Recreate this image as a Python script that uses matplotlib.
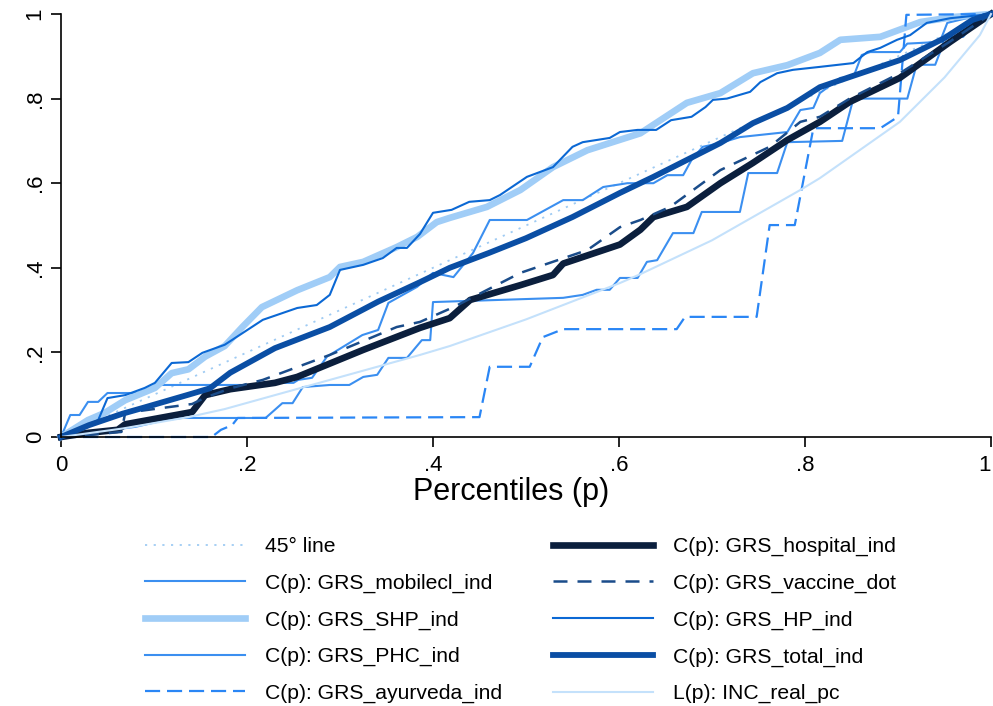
import matplotlib
matplotlib.use('Agg')
import matplotlib.pyplot as plt

plt.rcParams['font.family'] = ['Liberation Sans', 'DejaVu Sans']

# ==========================================
# 1. Curves: (p, value)
# ==========================================
line45 = [(0, 0), (1, 1)]

mobilecl = [(0, 0), (0.01, 0.052), (0.02, 0.052), (0.029, 0.083), (0.04, 0.083), (0.05, 0.104),
            (0.093, 0.104), (0.101, 0.123), (0.215, 0.123), (0.22, 0.128), (0.25, 0.128),
            (0.255, 0.135), (0.27, 0.14), (0.286, 0.19), (0.324, 0.241), (0.341, 0.253),
            (0.352, 0.317), (0.383, 0.355), (0.40, 0.388), (0.422, 0.378), (0.443, 0.435),
            (0.461, 0.513), (0.501, 0.513), (0.54, 0.56), (0.561, 0.56), (0.583, 0.591),
            (0.609, 0.60), (0.637, 0.60), (0.652, 0.619), (0.669, 0.619), (0.678, 0.655),
            (0.69, 0.686), (0.709, 0.695), (0.73, 0.709), (0.781, 0.721), (0.795, 0.773),
            (0.809, 0.778), (0.816, 0.813), (0.838, 0.849), (0.852, 0.851), (0.861, 0.903),
            (0.87, 0.91), (0.902, 0.91), (0.91, 0.93), (0.945, 0.934), (0.953, 0.979),
            (0.974, 0.99), (1, 1)]

shp = [(0, 0), (0.029, 0.04), (0.047, 0.057), (0.069, 0.087), (0.101, 0.116), (0.119, 0.151),
       (0.137, 0.16), (0.155, 0.19), (0.176, 0.215), (0.195, 0.26), (0.216, 0.307),
       (0.254, 0.347), (0.289, 0.378), (0.30, 0.402), (0.325, 0.414), (0.361, 0.449),
       (0.383, 0.473), (0.404, 0.508), (0.418, 0.518), (0.458, 0.544), (0.494, 0.584),
       (0.529, 0.638), (0.566, 0.678), (0.623, 0.718), (0.673, 0.79), (0.709, 0.813),
       (0.744, 0.86), (0.781, 0.879), (0.816, 0.908), (0.838, 0.939), (0.881, 0.946),
       (0.924, 0.981), (0.96, 0.993), (1, 1)]

phc = [(0, 0), (0.055, 0.017), (0.08, 0.024), (0.112, 0.04), (0.13, 0.045), (0.22, 0.045),
       (0.238, 0.08), (0.249, 0.08), (0.26, 0.118), (0.289, 0.123), (0.31, 0.123),
       (0.325, 0.142), (0.34, 0.147), (0.352, 0.187), (0.372, 0.187), (0.388, 0.229),
       (0.397, 0.229), (0.40, 0.319), (0.54, 0.329), (0.561, 0.336), (0.576, 0.348),
       (0.59, 0.348), (0.601, 0.376), (0.62, 0.376), (0.63, 0.414), (0.641, 0.418),
       (0.658, 0.482), (0.68, 0.482), (0.689, 0.532), (0.73, 0.532), (0.739, 0.624),
       (0.77, 0.624), (0.781, 0.697), (0.84, 0.70), (0.852, 0.80), (0.91, 0.80),
       (0.92, 0.88), (0.94, 0.88), (0.947, 0.92), (0.95, 0.946), (0.97, 0.946),
       (0.985, 0.985), (1, 1)]

ayurveda = [(0, 0), (0.162, 0), (0.172, 0.017), (0.184, 0.028), (0.19, 0.045), (0.45, 0.047),
            (0.461, 0.166), (0.504, 0.166), (0.518, 0.236), (0.54, 0.255), (0.662, 0.255),
            (0.671, 0.284), (0.748, 0.284), (0.762, 0.501), (0.789, 0.501), (0.809, 0.73),
            (0.881, 0.73), (0.9, 0.757), (0.909, 0.998), (1, 1)]

hospital = [(0, 0), (0.03, 0.01), (0.061, 0.017), (0.069, 0.03), (0.141, 0.059), (0.155, 0.099),
            (0.182, 0.113), (0.23, 0.128), (0.254, 0.142), (0.325, 0.206), (0.386, 0.258),
            (0.418, 0.281), (0.44, 0.324), (0.494, 0.359), (0.529, 0.383), (0.54, 0.41),
            (0.601, 0.455), (0.623, 0.49), (0.637, 0.52), (0.673, 0.544), (0.709, 0.60),
            (0.744, 0.648), (0.781, 0.702), (0.816, 0.745), (0.848, 0.792), (0.902, 0.849),
            (0.956, 0.934), (1, 1)]

vaccine = [(0, 0), (0.03, 0.005), (0.065, 0.012), (0.069, 0.057), (0.141, 0.078), (0.155, 0.093),
           (0.182, 0.115), (0.217, 0.135), (0.289, 0.194), (0.361, 0.26), (0.386, 0.272),
           (0.422, 0.307), (0.494, 0.388), (0.566, 0.442), (0.601, 0.496), (0.623, 0.513),
           (0.655, 0.544), (0.709, 0.631), (0.762, 0.686), (0.795, 0.745), (0.816, 0.757),
           (0.848, 0.80), (0.902, 0.86), (0.956, 0.935), (1, 1)]

hp = [(0, 0), (0.04, 0.04), (0.05, 0.092), (0.069, 0.099), (0.09, 0.116), (0.101, 0.128),
      (0.119, 0.175), (0.137, 0.177), (0.152, 0.199), (0.176, 0.218), (0.217, 0.277),
      (0.254, 0.305), (0.275, 0.312), (0.289, 0.336), (0.30, 0.395), (0.325, 0.407),
      (0.346, 0.423), (0.361, 0.447), (0.372, 0.447), (0.386, 0.48), (0.40, 0.53),
      (0.42, 0.537), (0.439, 0.556), (0.461, 0.56), (0.472, 0.572), (0.501, 0.615),
      (0.529, 0.638), (0.55, 0.686), (0.561, 0.697), (0.59, 0.707), (0.601, 0.721),
      (0.62, 0.726), (0.64, 0.726), (0.656, 0.749), (0.678, 0.757), (0.693, 0.78),
      (0.701, 0.797), (0.716, 0.80), (0.741, 0.816), (0.752, 0.839), (0.77, 0.86),
      (0.787, 0.868), (0.816, 0.875), (0.852, 0.884), (0.867, 0.91), (0.881, 0.92),
      (0.899, 0.939), (0.913, 0.95), (0.931, 0.979), (0.956, 0.99), (1, 1)]

total = [(0, 0), (0.03, 0.028), (0.066, 0.055), (0.09, 0.07), (0.137, 0.10), (0.16, 0.115),
         (0.182, 0.152), (0.23, 0.21), (0.289, 0.26), (0.341, 0.32), (0.386, 0.366),
         (0.418, 0.40), (0.46, 0.435), (0.5, 0.47), (0.55, 0.52), (0.601, 0.577),
         (0.637, 0.615), (0.673, 0.655), (0.709, 0.695), (0.744, 0.742), (0.781, 0.778),
         (0.816, 0.827), (0.848, 0.851), (0.902, 0.891), (0.95, 0.943), (0.98, 0.986), (1, 1)]

lorenz = [(0, 0), (0.066, 0.02), (0.137, 0.047), (0.176, 0.066), (0.23, 0.099), (0.386, 0.194),
          (0.418, 0.215), (0.5, 0.278), (0.601, 0.364), (0.623, 0.385), (0.7, 0.465),
          (0.795, 0.584), (0.816, 0.612), (0.902, 0.745), (0.95, 0.85), (0.988, 0.95), (1, 1)]

labels = ['45° line', 'C(p): GRS_mobilecl_ind', 'C(p): GRS_SHP_ind', 'C(p): GRS_PHC_ind',
          'C(p): GRS_ayurveda_ind', 'C(p): GRS_hospital_ind', 'C(p): GRS_vaccine_dot',
          'C(p): GRS_HP_ind', 'C(p): GRS_total_ind', 'L(p): INC_real_pc']

series = [line45, mobilecl, shp, phc, ayurveda, hospital, vaccine, hp, total, lorenz]

# style: (colour, width, dashes)
styles = [
    ('#9fcbf3', 1.3, (1.2, 3.6)),
    ('#3b8ff0', 1.5, None),
    ('#a0cdf7', 4.8, None),
    ('#3b8ff0', 1.5, None),
    ('#2a86f5', 1.6, (6.8, 3.1)),
    ('#0b1f3d', 4.8, None),
    ('#1a4c8a', 1.8, (5.6, 4.0)),
    ('#0b68d4', 1.5, None),
    ('#0a4ea4', 4.2, None),
    ('#c4e1fb', 1.5, None),
]

# ==========================================
# 2. Plot
# ==========================================
fig = plt.figure(figsize=(9.93, 7.06), dpi=100)
ax = fig.add_axes([61 / 993, 1 - 437 / 706, 930 / 993, 423 / 706])

for pts, lab, (col, lw, dash) in zip(series, labels, styles):
    xs = [a for a, b in pts]
    ys = [b for a, b in pts]
    ln, = ax.plot(xs, ys, color=col, lw=lw, label=lab, clip_on=False,
                  solid_joinstyle='round', dash_joinstyle='round')
    if dash is not None:
        ln.set_dashes(dash)

ax.set_xlim(0, 1)
ax.set_ylim(0, 1)
ticks = [0, 0.2, 0.4, 0.6, 0.8, 1]
tlabels = ['0', '.2', '.4', '.6', '.8', '1']
ax.set_xticks(ticks)
ax.set_xticklabels(tlabels)
ax.set_yticks(ticks)
ax.set_yticklabels(tlabels, rotation=90, va='center')
ax.tick_params(axis='both', length=7, width=1.2, labelsize=16)
ax.tick_params(axis='x', pad=6)
ax.tick_params(axis='y', pad=4)
ax.get_xticklabels()[-1].set_horizontalalignment('right')
for s in ['top', 'right']:
    ax.spines[s].set_visible(False)
for s in ['left', 'bottom']:
    ax.spines[s].set_linewidth(1.2)

ax.set_xlabel('Percentiles (p)', fontsize=22)
ax.xaxis.set_label_coords((511 - 61) / 930, -(492 - 437) / 423)
ax.xaxis.label.set_va('center')

fig.legend(loc='upper left', bbox_to_anchor=(145 / 993, 1 - 537 / 706), ncol=2,
           frameon=False, fontsize=15.2, handlelength=4.75, handletextpad=0.95,
           columnspacing=2.4, labelspacing=0.83, borderpad=0, borderaxespad=0)

plt.savefig('out.png', dpi=100)
